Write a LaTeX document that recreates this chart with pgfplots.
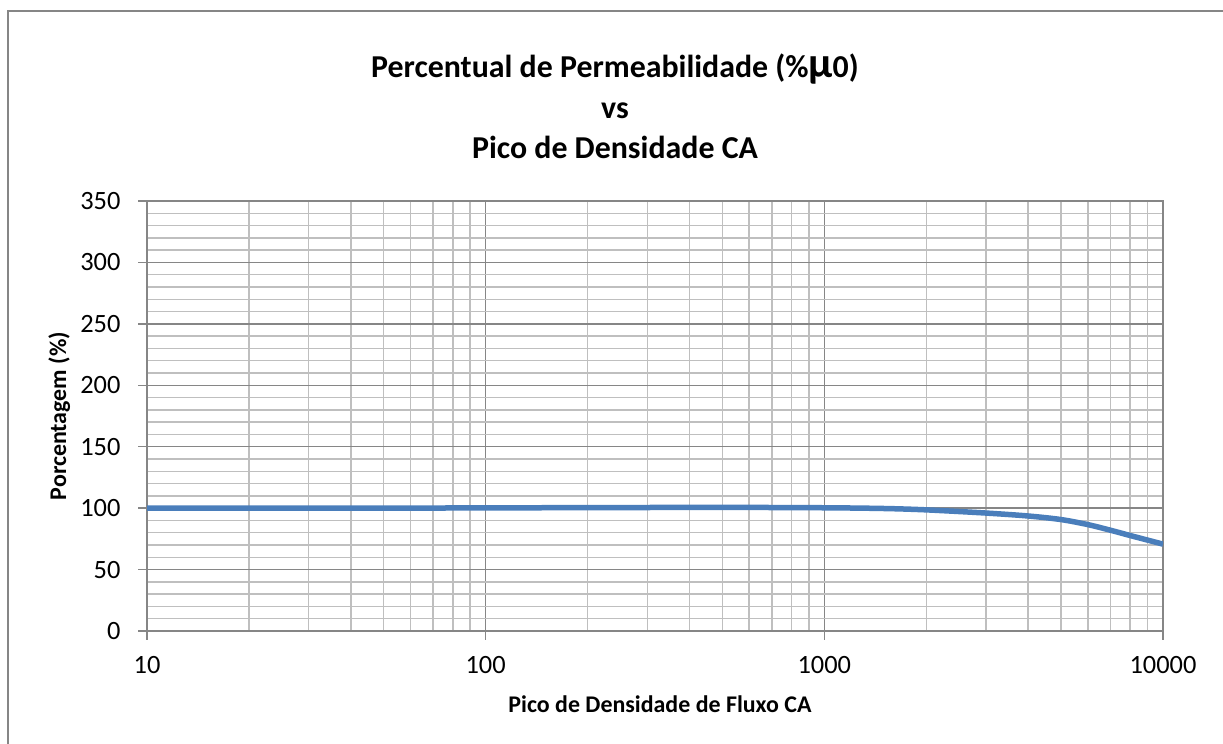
\documentclass[border=0pt]{standalone}
\usepackage{fontspec}
\setmainfont{Carlito}
\usepackage{pgfplots}
\pgfplotsset{compat=1.18}
\definecolor{serie}{HTML}{4A7EBB}
\definecolor{majg}{HTML}{868686}
\definecolor{ming}{HTML}{BFBFBF}
\begin{document}
\begin{tikzpicture}[x=1bp,y=1bp]
\path[use as bounding box] (0,0) rectangle (1223,744);
\draw[color=majg, line width=2bp] (7.5,0) -- (7.5,732.5) -- (1223,732.5);
\begin{axis}[
  at={(147bp,113bp)}, anchor=south west,
  scale only axis, width=1016bp, height=430bp,
  xmode=log, xmin=10, xmax=10000, ymin=0, ymax=350,
  xtick={10,100,1000,10000}, xticklabels={10,100,1000,10000},
  ytick={0,50,...,350}, minor y tick num=4,
  grid=both,
  major grid style={color=majg, line width=1.5bp},
  minor grid style={color=ming, line width=1.5bp},
  axis line style={color=majg, line width=1.5bp},
  tick style={color=majg, line width=1.5bp},
  tick align=outside, major tick length=9bp, minor tick length=0pt,
  xtick pos=bottom, ytick pos=left,
  ticklabel style={font=\fontsize{26.5}{30}\selectfont},
  xticklabel style={yshift=-13bp},
  yticklabel style={xshift=-14bp},
  /pgf/number format/assume math mode=true,
]
\addplot[color=serie, line width=5.5bp, smooth, tension=0.5] coordinates {
  (10,100) (20,100) (50,100) (100,100.2) (200,100.4) (500,100.6) (1000,100.3)
  (1500,99.7) (2000,98.6) (3000,96) (4000,93.6) (5000,90.7) (6000,86.6)
  (7000,82) (8000,77.7) (9000,74) (10000,70.7)
};
\end{axis}
\node[anchor=base, font=\fontsize{32}{32}\selectfont\bfseries] at (615,666.7) {Percentual de Permeabilidade (\%{\fontsize{43}{43}\selectfont µ}0)};
\node[anchor=base, font=\fontsize{32}{32}\selectfont\bfseries] at (615,625) {vs};
\node[anchor=base, font=\fontsize{32}{32}\selectfont\bfseries] at (615,585) {Pico de Densidade CA};
\node[anchor=base, font=\fontsize{24}{24}\selectfont\bfseries] at (660,31) {Pico de Densidade de Fluxo CA};
\node[anchor=base, rotate=90, font=\fontsize{24}{24}\selectfont\bfseries] at (66,328) {Porcentagem (\%)};
\end{tikzpicture}
\end{document}
